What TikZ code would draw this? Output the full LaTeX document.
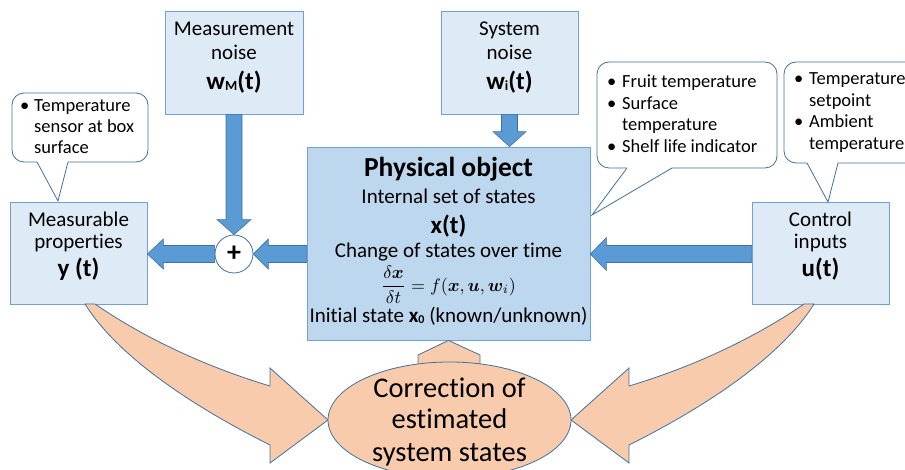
\documentclass[tikz,border=0pt]{standalone}
\usepackage{amsmath,bm,graphicx}
\usepackage{fontspec}
\setmainfont{Carlito}[Ligatures=NoCommon]
\usetikzlibrary{calc,shapes.geometric}

\definecolor{boxfill}{RGB}{222,235,247}
\definecolor{boxline}{RGB}{112,160,215}
\definecolor{objfill}{RGB}{189,215,238}
\definecolor{arrfill}{RGB}{91,155,213}
\definecolor{arrline}{RGB}{65,113,156}
\definecolor{orfill}{RGB}{248,203,173}
\definecolor{calline}{RGB}{65,113,156}

% straight block arrow: tail, tip, shaft half-width, head half-width, head length
\newcommand{\blockarr}[5]{%
  \coordinate (bah) at ($(#2)!#5!(#1)$);
  \draw[barrow] ($(#1)!#3!90:(#2)$) -- ($(bah)!#3!90:(#2)$) -- ($(bah)!#4!90:(#2)$)
    -- (#2) -- ($(bah)!#4!-90:(#2)$) -- ($(bah)!#3!-90:(#2)$) -- ($(#1)!#3!-90:(#2)$) -- cycle;}

\tikzset{
  box/.style={draw=boxline, fill=boxfill, line width=0.8pt, inner sep=0pt},
  objbox/.style={draw=boxline, fill=objfill, line width=0.8pt, inner sep=0pt},
  barrow/.style={draw=arrline, fill=arrfill, line width=0.6pt},
  curvearrow/.style={draw=arrline, fill=orfill, line width=0.8pt},
  callout/.style={draw=calline, fill=white, line width=0.8pt},
  txt/.style={anchor=base, inner sep=0pt},
  ltxt/.style={anchor=base west, inner sep=0pt},
  lbl/.style={font=\fontsize{21}{25}\selectfont},
  big/.style={font=\fontsize{25}{30}\selectfont\bfseries},
  title/.style={font=\fontsize{27.5}{32}\selectfont\bfseries},
  note/.style={font=\fontsize{18.5}{22}\selectfont},
  corrtxt/.style={font=\fontsize{28.5}{33}\selectfont},
}

\begin{document}
\begin{tikzpicture}[x=1pt,y=-1pt]
\useasboundingbox (0,0) rectangle (905,470);
\clip (0,0) rectangle (905,470);

% ---- boxes ----
\node[box, minimum width=138pt, minimum height=103pt] (wm) at (234,62.5) {};
\node[box, minimum width=137pt, minimum height=103pt] (wi) at (509.5,62.5) {};
\node[objbox, minimum width=283pt, minimum height=193pt] (obj) at (448.5,243.5) {};
\node[box, minimum width=137pt, minimum height=102pt] (meas) at (78.5,253) {};
\node[box, minimum width=137pt, minimum height=102pt] (ctrl) at (820.5,253) {};
\node[circle, draw=arrline, fill=white, line width=0.8pt, minimum size=38pt, inner sep=0pt,
      font=\fontsize{28}{28}\selectfont\bfseries] (sum) at (234,254) {+};

% ---- box texts ----
\node[txt, lbl] at (234,36) {Measurement};
\node[txt, lbl] at (234,60) {noise};
\node[txt, big] at (234,90) {w\raisebox{-1pt}{\fontsize{14}{14}\selectfont M}(t)};

\node[txt, lbl] at (509.5,36) {System};
\node[txt, lbl] at (509.5,60) {noise};
\node[txt, big] at (509.5,90) {w\raisebox{-1pt}{\fontsize{14}{14}\selectfont i}(t)};

\node[txt, title] at (448.5,177) {Physical object};
\node[txt, lbl] at (448.5,204) {Internal set of states};
\node[txt, big] at (448.5,234) {x(t)};
\node[txt, lbl] at (448.5,258) {Change of states over time};
\node[inner sep=0pt] at (448.5,285)
  {\scalebox{1.8}{$\dfrac{\delta\bm{x}}{\delta t} = f(\bm{x},\bm{u},\bm{w}_i)$}};
\node[txt, lbl] at (448.5,323) {Initial state \textbf{x\raisebox{-1pt}{\fontsize{12}{12}\selectfont 0}} (known/unknown)};

\node[txt, lbl] at (78.5,227) {Measurable};
\node[txt, lbl] at (78.5,249) {properties};
\node[txt, big] at (78.5,277) {y (t)};

\node[txt, lbl] at (820.5,227) {Control};
\node[txt, lbl] at (820.5,249) {inputs};
\node[txt, big] at (820.5,277) {u(t)};

% ---- blue block arrows ----
\coordinate (objw) at (obj.west |- sum);
\coordinate (measE) at (meas.east |- sum);
\coordinate (objtop) at (wi.south |- obj.north);
\coordinate (ctrlw) at (ctrl.west |- sum);
\coordinate (obje) at (obj.east |- sum);
\blockarr{objw}{sum.east}{8.5pt}{15pt}{15pt}
\blockarr{sum.west}{measE}{8.5pt}{15pt}{16pt}
\blockarr{wm.south}{sum.north}{8pt}{17pt}{15pt}
\blockarr{wi.south}{objtop}{8pt}{16.5pt}{15pt}
\blockarr{ctrlw}{obje}{8.5pt}{16.5pt}{16pt}

% ---- callouts ----
\draw[callout, rounded corners=12pt] (12,93) rectangle (148,162);
\fill[white] (37.5,160.5) -- (67.5,160.5) -- (68,162) -- (58,201) -- (37,162) -- cycle;
\draw[calline, line width=0.8pt] (37,162) -- (58,201) -- (68,162);

\draw[callout, rounded corners=12pt] (597,62) rectangle (777,168);
\fill[white] (627.5,166.5) -- (671.5,166.5) -- (672,168) -- (592,215) -- (627,168) -- cycle;
\draw[calline, line width=0.8pt] (627,168) -- (592,215) -- (672,168);

\draw[callout, rounded corners=12pt] (784,62) rectangle (935,163);
\fill[white] (807.5,161.5) -- (837.5,161.5) -- (838,163) -- (828,202) -- (807,163) -- cycle;
\draw[calline, line width=0.8pt] (807,163) -- (828,202) -- (838,163);

% callout texts
\node[ltxt, note] at (20,112) {•};
\node[ltxt, note] at (34,112) {Temperature};
\node[ltxt, note] at (34,133) {sensor at box};
\node[ltxt, note] at (34,154) {surface};

\node[ltxt, note] at (607,88) {•};
\node[ltxt, note] at (622,88) {Fruit temperature};
\node[ltxt, note] at (607,109.5) {•};
\node[ltxt, note] at (622,109.5) {Surface};
\node[ltxt, note] at (622,131) {temperature};
\node[ltxt, note] at (607,152.5) {•};
\node[ltxt, note] at (622,152.5) {Shelf life indicator};

\node[ltxt, note] at (794,85) {•};
\node[ltxt, note] at (809,85) {Temperature};
\node[ltxt, note] at (809,106.5) {setpoint};
\node[ltxt, note] at (794,128) {•};
\node[ltxt, note] at (809,128) {Ambient};
\node[ltxt, note] at (809,149.5) {temperature};

% ---- correction part ----
\draw[curvearrow] (95,304) .. controls (140,335) and (200,365) .. (270,386)
  -- (270,368) -- (328,420) -- (270,463) -- (270,445)
  .. controls (200,410) and (120,360) .. (85,304) -- cycle;
\draw[curvearrow] (804,304) .. controls (759,335) and (699,365) .. (629,386)
  -- (629,368) -- (571,420) -- (629,463) -- (629,445)
  .. controls (699,410) and (779,360) .. (814,304) -- cycle;
\draw[curvearrow] (418,368) -- (418,355) -- (obj.south) -- (480,355) -- (480,368) -- cycle;

\node[ellipse, draw=arrline, fill=orfill, line width=0.8pt, minimum width=243pt,
      minimum height=116pt, inner sep=0pt] (corr) at (449.5,420) {};
\node[txt, corrtxt] at (449.5,397) {Correction of};
\node[txt, corrtxt] at (449.5,428) {estimated};
\node[txt, corrtxt] at (449.5,461) {system states};
\end{tikzpicture}
\end{document}
